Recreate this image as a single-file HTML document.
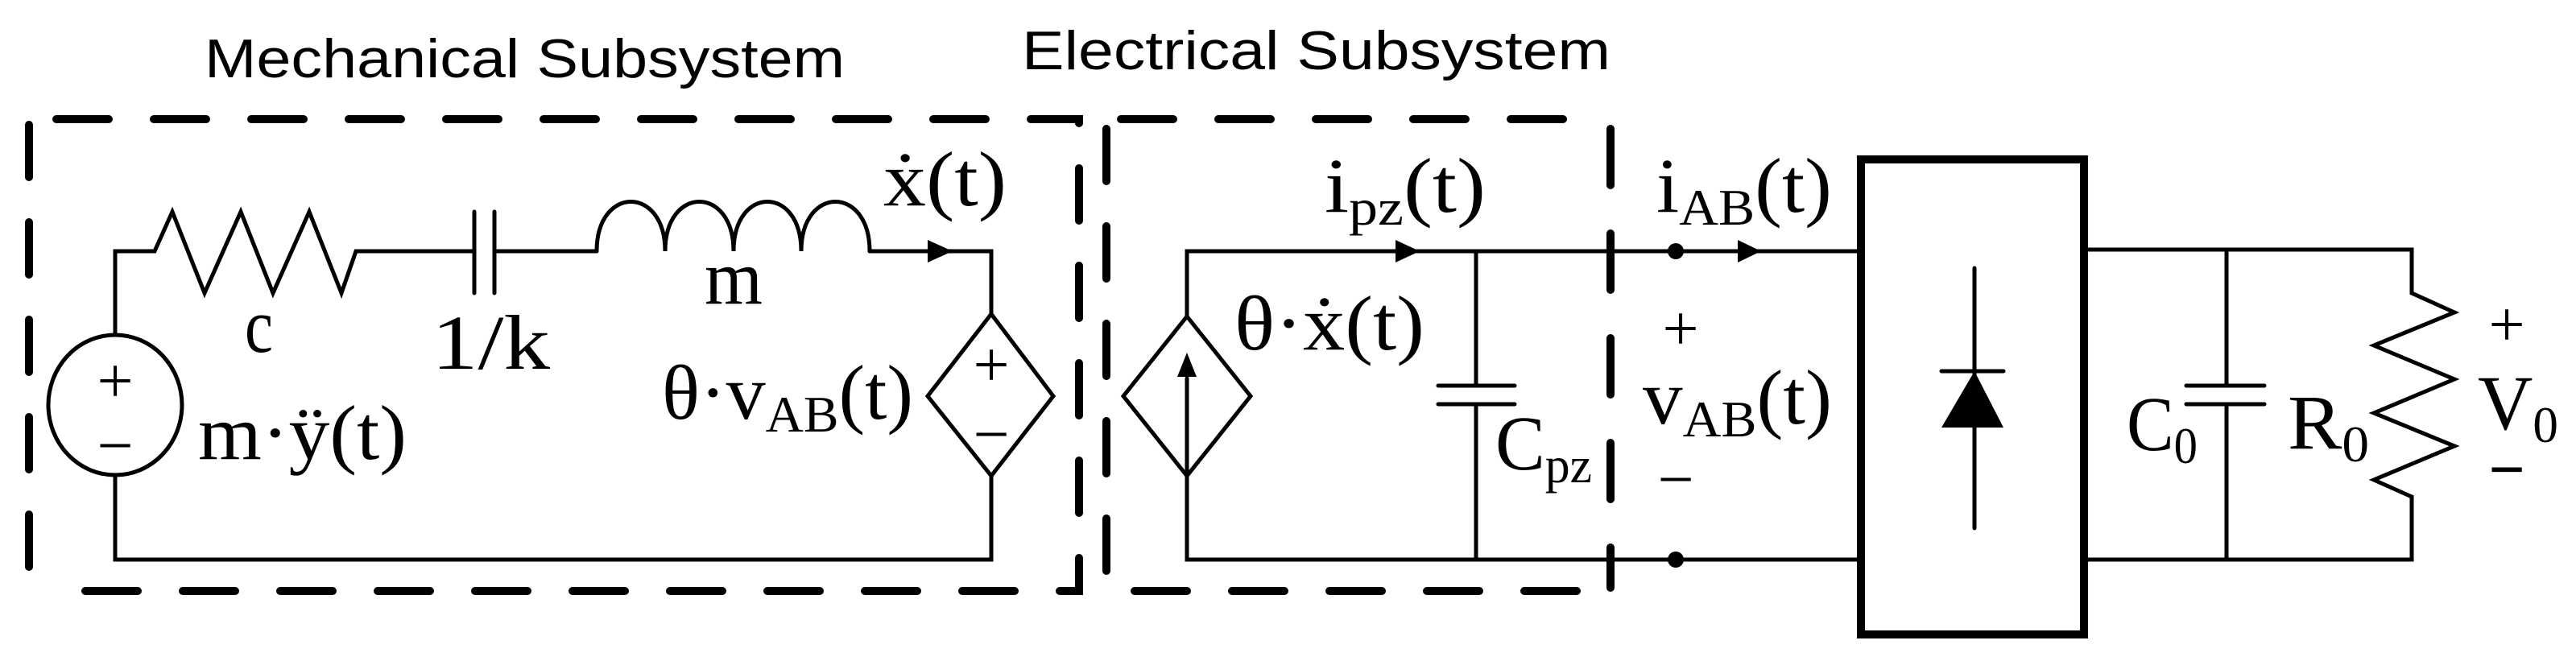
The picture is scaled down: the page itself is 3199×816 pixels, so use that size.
<!DOCTYPE html>
<html><head><meta charset="utf-8"><style>
html,body{margin:0;padding:0;background:#fff;}
svg{display:block;}
text{font-family:"Liberation Serif",serif;fill:#000;}
.t{font-family:"Liberation Sans",sans-serif;}
</style></head><body>
<svg width="3199" height="816" viewBox="0 0 3199 816" xmlns="http://www.w3.org/2000/svg">
<g fill="none" stroke="#000" stroke-linecap="round">
<g stroke-width="10" stroke-dasharray="65,56">
<path d="M70 148 H1340 V734 H70"/>
<path d="M36 155 V734"/>
<path d="M1392 148 H1970"/>
<path d="M1409 734 H1975"/>
<path d="M1374 160 V720"/>
<path d="M2000 160 V730" stroke-dasharray="70,60"/>
</g>
<g stroke-width="5" stroke-linejoin="miter">
<path d="M143 416 V312 H192 L214 263 L254 364 L299 263 L339 364 L384 263 L424 364 L442 312 H589"/>
<path d="M589 263 V364 M614 263 V364"/>
<path d="M614 312 H741"/>
<path d="M741 312 C741 230 826 230 826 312 C826 230 911 230 911 312 C911 230 995 230 995 312 C995 230 1080 230 1080 312"/>
<path d="M1080 312 H1231 V390"/>
<ellipse cx="143" cy="503" rx="83" ry="87"/>
<path d="M143 591 V695 H1231 V591"/>
<path d="M1231 390 L1308 492 L1231 591 L1152 492 Z"/>
<path d="M1474 393 V312 H2311 M1474 591 V695 H2311"/>
<path d="M1474 393 L1553 492 L1474 591 L1395 492 Z"/>
<path d="M1474 591 V470"/>
<path d="M1833 312 V479 M1833 502 V695 M1786 479 H1881 M1786 502 H1881"/>
<path d="M2588 310 H2995 V364 L3048 388 L2948 429 L3048 471 L2948 513 L3048 554 L2948 596 L2995 617 V695 H2588"/>
<path d="M2765 310 V479 M2765 502 V695 M2715 479 H2812 M2715 502 H2812"/>
<path d="M2452 333 V656 M2411 461 H2488"/>
</g>
<rect x="2311" y="198" width="277" height="590" stroke-width="10"/>
</g>
<g fill="#000">
<polygon points="1152,298 1183,312 1152,326"/>
<polygon points="1474,438 1462,468 1486,468"/>
<polygon points="1733,298 1763,312 1733,326"/>
<polygon points="2158,298 2187,312 2158,326"/>
<polygon points="2452,461 2411,531 2488,531"/>
<circle cx="2081" cy="312" r="10"/>
<circle cx="2081" cy="695" r="10"/>
</g>
<text class="t" x="254" y="96" font-size="68" textLength="795" lengthAdjust="spacingAndGlyphs">Mechanical Subsystem</text>
<text class="t" x="1269" y="86" font-size="68" textLength="731" lengthAdjust="spacingAndGlyphs">Electrical Subsystem</text>
<g font-size="96">
<text x="143" y="500" text-anchor="middle" font-size="80">+</text>
<text x="143" y="580" text-anchor="middle" font-size="80">−</text>
<text x="1231" y="480" text-anchor="middle" font-size="80">+</text>
<text x="1231" y="566" text-anchor="middle" font-size="80">−</text>
<text x="304" y="437" textLength="35" lengthAdjust="spacingAndGlyphs">c</text>
<text x="536" y="458" textLength="147" lengthAdjust="spacingAndGlyphs">1/k</text>
<text x="875" y="377" textLength="72" lengthAdjust="spacingAndGlyphs">m</text>
<text x="1097" y="255" textLength="153" lengthAdjust="spacingAndGlyphs">ẋ(t)</text>
<text x="246" y="570" textLength="259" lengthAdjust="spacingAndGlyphs">m·ÿ(t)</text>
<text x="822" y="520" textLength="312" lengthAdjust="spacingAndGlyphs">θ·v<tspan font-size="64" dy="16">AB</tspan><tspan dy="-16">(t)</tspan></text>
<text x="1645" y="263" textLength="200" lengthAdjust="spacingAndGlyphs">i<tspan font-size="64" dy="16">pz</tspan><tspan dy="-16">(t)</tspan></text>
<text x="2057" y="263" textLength="218" lengthAdjust="spacingAndGlyphs">i<tspan font-size="64" dy="16">AB</tspan><tspan dy="-16">(t)</tspan></text>
<text x="1533" y="434" textLength="236" lengthAdjust="spacingAndGlyphs">θ·ẋ(t)</text>
<text x="1857" y="583" textLength="120" lengthAdjust="spacingAndGlyphs">C<tspan font-size="64" dy="16">pz</tspan></text>
<text x="2087" y="435" text-anchor="middle" font-size="80">+</text>
<text x="2040" y="526" textLength="235" lengthAdjust="spacingAndGlyphs">v<tspan font-size="64" dy="16">AB</tspan><tspan dy="-16">(t)</tspan></text>
<text x="2081" y="622" text-anchor="middle" font-size="80">−</text>
<text x="2641" y="559" textLength="88" lengthAdjust="spacingAndGlyphs">C<tspan font-size="64" dy="16">0</tspan></text>
<text x="2841" y="557" textLength="101" lengthAdjust="spacingAndGlyphs">R<tspan font-size="64" dy="16">0</tspan></text>
<text x="3113" y="430" text-anchor="middle" font-size="80">+</text>
<text x="3077" y="533" textLength="100" lengthAdjust="spacingAndGlyphs">V<tspan font-size="64" dy="16">0</tspan></text>
<text x="3113" y="610" text-anchor="middle" font-size="80" font-weight="bold">−</text>
</g>
</svg>
</body></html>
